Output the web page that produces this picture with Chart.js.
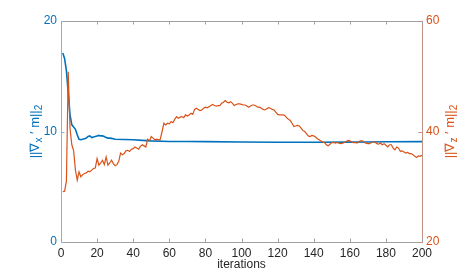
<!DOCTYPE html>
<html>
<head>
<meta charset="utf-8">
<script src="https://cdn.jsdelivr.net/npm/chart.js@4.4.1/dist/chart.umd.min.js"></script>
<style>
  html, body { margin: 0; padding: 0; background: #fff; }
  #wrap { width: 467px; height: 273px; }
</style>
</head>
<body>
<div id="wrap"><canvas id="chart" width="467" height="273"></canvas></div>
<script>
// tick labels
var xTicks = [0, 20, 40, 60, 80, 100, 120, 140, 160, 180, 200];
var leftTicks = [0, 10, 20];
var rightTicks = [20, 40, 60];

// ||grad_x' m||_2 (left axis)
var blueIters = [1, 2, 3, 4, 5, 6, 7, 8, 9, 10, 11, 12, 13, 14, 15, 16, 17, 18, 19, 20,
  21, 22, 23, 24, 25, 26, 27, 28, 29, 30, 35, 40, 45, 50, 60, 70, 80, 100, 120, 140, 160, 170, 180, 200];
var blueVals = [17.1, 16.6, 15.5, 13.5, 11.5, 10.6, 10.4, 10.2, 9.7, 9.3, 9.25, 9.3, 9.35, 9.4, 9.55, 9.6, 9.45, 9.5, 9.55, 9.6,
  9.65, 9.6, 9.6, 9.55, 9.45, 9.4, 9.4, 9.38, 9.35, 9.3, 9.28, 9.25, 9.2, 9.15, 9.1, 9.09, 9.08, 9.05, 9.03, 9.03, 9.04, 9.05, 9.07, 9.08];

// ||grad_z' m||_2 (right axis), one value per iteration 1..200
var orangeVals = [
  29.1, 29.2, 31.0, 50.8, 40.5, 37.6, 36.5, 33.0, 31.2, 32.7,
  31.8, 32.2, 32.4, 32.5, 32.8, 32.7, 33.0, 33.3, 33.4, 35.1,
  33.9, 34.3, 34.8, 34.0, 35.4, 33.9, 34.3, 34.8, 34.2, 33.8,
  34.0, 34.6, 36.1, 35.8, 36.0, 36.5, 36.6, 36.4, 36.8, 36.9,
  37.2, 37.0, 36.8, 37.3, 37.6, 37.4, 37.2, 38.6, 38.3, 39.1,
  38.8, 38.5, 38.6, 38.5, 38.6, 40.0, 41.5, 41.2, 41.5, 41.4,
  41.8, 41.6, 42.2, 42.7, 42.4, 42.6, 42.7, 42.5, 43.0, 42.8,
  43.0, 43.3, 43.1, 44.0, 44.2, 44.0, 43.8, 43.9, 44.2, 44.4,
  44.3, 44.5, 44.7, 44.9, 44.7, 44.6, 44.7, 44.7, 45.1, 45.3,
  45.6, 45.3, 45.2, 45.4, 45.1, 44.7, 44.9, 45.0, 45.0, 44.9,
  44.8, 44.8, 44.6, 44.4, 44.6, 44.8, 44.8, 44.6, 44.4, 44.4,
  44.2, 44.0, 43.9, 44.1, 44.3, 44.2, 44.0, 43.9, 43.5, 43.1,
  43.0, 43.0, 43.0, 42.9, 42.5, 42.2, 42.0, 41.5, 40.9, 41.0,
  41.1, 41.0, 40.6, 40.2, 40.0, 39.6, 39.2, 39.1, 39.3, 39.2,
  39.0, 38.7, 38.5, 38.3, 38.1, 38.0, 37.6, 37.4, 37.7, 38.0,
  38.0, 37.9, 38.0, 37.9, 37.8, 37.9, 38.0, 38.2, 38.4, 38.3,
  38.1, 38.0, 38.0, 37.9, 38.2, 38.3, 38.3, 38.0, 37.9, 37.8,
  37.8, 38.0, 38.1, 38.1, 37.8, 37.7, 37.9, 37.6, 37.8, 37.5,
  37.2, 37.6, 37.6, 37.0, 36.7, 37.2, 37.0, 36.4, 36.5, 36.3,
  36.1, 36.2, 36.0, 36.0, 35.8, 35.5, 35.3, 35.6, 35.5, 35.7
];

var BLUE = '#0072BD';
var ORANGE = '#D95319';
var GREY = '#262626';
var FONT = '"Liberation Sans", Arial, Helvetica, sans-serif';

var blueData = blueIters.map(function (it, i) { return { x: it, y: blueVals[i] }; });
var orangeData = orangeVals.map(function (v, i) { return { x: i + 1, y: v }; });

// rotated axis title, pieces flagged sub are drawn small and lowered
function drawTitle(ctx, cx, cy, parts, color) {
  var big = '13px ' + FONT, small = '10px ' + FONT;
  var w = 0;
  parts.forEach(function (p) { ctx.font = p.sub ? small : big; w += ctx.measureText(p.t).width; });
  ctx.save();
  ctx.translate(cx, cy);
  ctx.rotate(-Math.PI / 2);
  ctx.fillStyle = color;
  ctx.textBaseline = 'alphabetic';
  ctx.textAlign = 'left';
  var x = -w / 2;
  parts.forEach(function (p) {
    ctx.font = p.sub ? small : big;
    ctx.fillText(p.t, x, p.sub ? 7.5 : 4.5);
    x += ctx.measureText(p.t).width;
  });
  ctx.restore();
}

// inward ticks, top box line and the titles
var decor = {
  id: 'decor',
  afterDraw: function (chart) {
    var ctx = chart.ctx, a = chart.chartArea;
    var sx = chart.scales.x, sl = chart.scales.yL, sr = chart.scales.yR;
    ctx.save();
    ctx.lineWidth = 1;
    ctx.strokeStyle = '#a0a0a0';
    ctx.beginPath();
    ctx.moveTo(a.left, a.top + 0.5);
    ctx.lineTo(a.right, a.top + 0.5);
    ctx.stroke();
    xTicks.forEach(function (v) {
      var px = Math.round(sx.getPixelForValue(v)) + 0.5;
      ctx.beginPath();
      ctx.moveTo(px, a.bottom); ctx.lineTo(px, a.bottom - 3.5);
      ctx.moveTo(px, a.top); ctx.lineTo(px, a.top + 3.5);
      ctx.stroke();
    });
    ctx.strokeStyle = '#7fb5de';
    leftTicks.forEach(function (v) {
      var py = Math.round(sl.getPixelForValue(v)) + 0.5;
      ctx.beginPath(); ctx.moveTo(a.left, py); ctx.lineTo(a.left + 3.5, py); ctx.stroke();
    });
    ctx.strokeStyle = '#c09080';
    rightTicks.forEach(function (v) {
      var py = Math.round(sr.getPixelForValue(v)) + 0.5;
      ctx.beginPath(); ctx.moveTo(a.right, py); ctx.lineTo(a.right - 3.5, py); ctx.stroke();
    });
    ctx.restore();

    var midY = (a.top + a.bottom) / 2;
    drawTitle(ctx, 34, midY, [
      { t: '||\u2207', sub: false }, { t: 'x', sub: true }, { t: ' \u2032 m||', sub: false }, { t: '2', sub: true }
    ], BLUE);
    drawTitle(ctx, 449, midY, [
      { t: '||\u2207', sub: false }, { t: 'z', sub: true }, { t: ' \u2032 m||', sub: false }, { t: '2', sub: true }
    ], ORANGE);

    ctx.save();
    ctx.font = '12px ' + FONT;
    ctx.fillStyle = GREY;
    ctx.textAlign = 'center';
    ctx.textBaseline = 'middle';
    ctx.fillText('iterations', (a.left + a.right) / 2, 265);
    ctx.restore();
  }
};

var ctx = document.getElementById('chart').getContext('2d');
var myChart = new Chart(ctx, {
  type: 'line',
  data: {
    datasets: [{
      label: 'x',
      data: blueData,
      yAxisID: 'yL',
      borderColor: BLUE,
      borderWidth: 1.6,
      pointRadius: 0,
      tension: 0,
      order: 1
    }, {
      label: 'z',
      data: orangeData,
      yAxisID: 'yR',
      borderColor: ORANGE,
      borderWidth: 1.2,
      pointRadius: 0,
      tension: 0,
      order: 0
    }]
  },
  options: {
    responsive: false,
    animation: false,
    devicePixelRatio: 1,
    layout: { padding: { top: 21, left: 0, right: 0, bottom: 0 } },
    plugins: { legend: { display: false }, tooltip: { enabled: false } },
    scales: {
      x: {
        type: 'linear',
        min: 0, max: 200,
        afterFit: function (s) { s.height = 31; },
        afterBuildTicks: function (s) { s.ticks = xTicks.map(function (v) { return { value: v }; }); },
        grid: { display: false, drawTicks: false },
        border: { display: true, color: '#a0a0a0', width: 1 },
        ticks: { color: GREY, padding: 4, font: { family: FONT, size: 12 }, maxRotation: 0 }
      },
      yL: {
        type: 'linear',
        position: 'left',
        min: 0, max: 20,
        afterFit: function (s) { s.width = 61; },
        afterBuildTicks: function (s) { s.ticks = leftTicks.map(function (v) { return { value: v }; }); },
        grid: { display: false, drawTicks: false },
        border: { display: true, color: '#7fb5de', width: 1 },
        ticks: { color: BLUE, padding: 4, font: { family: FONT, size: 12 } }
      },
      yR: {
        type: 'linear',
        position: 'right',
        min: 20, max: 60,
        afterFit: function (s) { s.width = 45; },
        afterBuildTicks: function (s) { s.ticks = rightTicks.map(function (v) { return { value: v }; }); },
        grid: { display: false, drawTicks: false },
        border: { display: true, color: '#c09080', width: 1 },
        ticks: { color: ORANGE, padding: 4, font: { family: FONT, size: 12 } }
      }
    }
  },
  plugins: [decor]
});
</script>
</body>
</html>
